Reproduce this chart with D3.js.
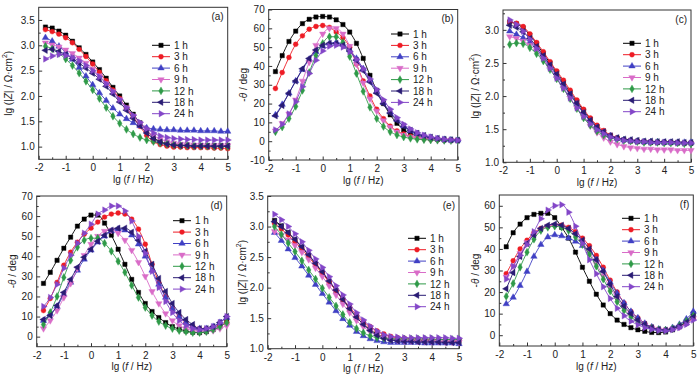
<!DOCTYPE html>
<html>
<head>
<meta charset="utf-8">
<script src="https://cdn.jsdelivr.net/npm/d3@7"></script>
<style>
body { margin: 0; background: #fff; }
svg { display: block; }
</style>
</head>
<body>
<svg id="chart" width="700" height="375"></svg>
<script>
// frequency grid, lg(f / Hz)
const LG_F = [-1.75, -1.5, -1.25, -1, -0.75, -0.5, -0.25, 0, 0.25, 0.5, 0.75, 1, 1.25, 1.5, 1.75, 2,
	2.25, 2.5, 2.75, 3, 3.25, 3.5, 3.75, 4, 4.25, 4.5, 4.75, 5];
const SERIES = ["1 h", "3 h", "6 h", "9 h", "12 h", "18 h", "24 h"];

// (a) lg|Z|
const panelA = [
	[3.36, 3.34, 3.28, 3.20, 3.08, 2.95, 2.82, 2.67, 2.52, 2.35, 2.17, 2.00, 1.82, 1.64, 1.47, 1.31, 1.18, 1.10, 1.06, 1.04, 1.03, 1.03, 1.02, 1.02, 1.02, 1.02, 1.02, 1.02],
	[3.31, 3.27, 3.22, 3.15, 3.05, 2.92, 2.78, 2.63, 2.47, 2.30, 2.12, 1.95, 1.76, 1.58, 1.40, 1.22, 1.10, 1.04, 1.01, 0.99, 0.99, 0.98, 0.98, 0.98, 0.98, 0.97, 0.97, 0.96],
	[3.15, 3.08, 2.98, 2.86, 2.72, 2.56, 2.39, 2.22, 2.06, 1.91, 1.76, 1.64, 1.55, 1.47, 1.41, 1.37, 1.35, 1.34, 1.33, 1.33, 1.32, 1.32, 1.32, 1.31, 1.31, 1.31, 1.30, 1.30],
	[3.05, 3.01, 2.97, 2.91, 2.84, 2.75, 2.65, 2.53, 2.40, 2.25, 2.09, 1.93, 1.77, 1.60, 1.45, 1.32, 1.22, 1.15, 1.10, 1.07, 1.05, 1.04, 1.03, 1.03, 1.02, 1.02, 1.02, 1.02],
	[2.98, 2.93, 2.84, 2.73, 2.60, 2.45, 2.29, 2.12, 1.95, 1.77, 1.60, 1.46, 1.34, 1.25, 1.18, 1.13, 1.10, 1.07, 1.05, 1.03, 1.02, 1.02, 1.01, 1.01, 1.01, 1.00, 1.00, 1.00],
	[2.90, 2.92, 2.88, 2.82, 2.74, 2.65, 2.55, 2.45, 2.33, 2.19, 2.04, 1.88, 1.72, 1.56, 1.41, 1.27, 1.16, 1.09, 1.05, 1.03, 1.02, 1.02, 1.01, 1.01, 1.01, 1.01, 1.01, 1.01],
	[2.73, 2.79, 2.82, 2.80, 2.76, 2.69, 2.60, 2.50, 2.38, 2.24, 2.09, 1.93, 1.77, 1.62, 1.48, 1.36, 1.27, 1.21, 1.18, 1.16, 1.15, 1.14, 1.14, 1.13, 1.13, 1.13, 1.13, 1.13]
];

// (b) -theta
const panelB = [
	[37, 45.5, 53, 58.5, 62.5, 64.8, 66, 66.3, 66, 64.5, 62, 58, 52, 44, 35, 27, 20, 14, 9.5, 6, 4, 2.8, 2, 1.4, 1, 0.7, 0.5, 0.5],
	[28, 36.5, 44.5, 51.5, 56, 59.5, 61, 61.5, 60.5, 58, 55, 50, 41, 32, 24, 17, 12, 8, 5.5, 3.8, 2.6, 1.8, 1.3, 1, 0.8, 0.6, 0.5, 0.4],
	[14, 19.5, 25.5, 32, 38, 43.5, 47.5, 50.5, 52, 52.5, 51.5, 48.5, 44, 38.5, 32.5, 26.5, 20.5, 15.5, 11.5, 8, 5.5, 4, 2.8, 2, 1.3, 0.9, 0.6, 0.5],
	[5.5, 9.5, 14.5, 22, 32, 42, 51, 57, 60, 60, 57, 50.5, 41, 31, 22.5, 16, 11, 7.5, 5, 3.3, 2.2, 1.5, 1, 0.8, 0.6, 0.5, 0.4, 0.3],
	[5, 7.5, 12, 18.5, 27, 36.5, 45.5, 52, 55.5, 55.5, 52.5, 45, 36, 26.5, 18, 12, 7.8, 5, 3.3, 2.2, 1.5, 1, 0.8, 0.6, 0.5, 0.4, 0.3, 0.3],
	[13.5, 19, 25.5, 32, 38.5, 44, 48.5, 51, 52, 52, 51, 48, 43, 37.5, 31.5, 25.5, 20, 15, 11, 8, 5.8, 4.2, 3, 2.1, 1.5, 1, 0.7, 0.5],
	[6, 9, 14.5, 21, 29, 36, 43, 48, 50.5, 51, 50, 47.5, 43.5, 38.5, 33, 27.5, 22, 17, 12.5, 9, 6.5, 4.5, 3.2, 2.2, 1.5, 1, 0.7, 0.5]
];

// (c) lg|Z|
const panelC = [
	[3.12, 3.09, 3.03, 2.92, 2.79, 2.64, 2.50, 2.36, 2.21, 2.06, 1.92, 1.78, 1.65, 1.54, 1.46, 1.40, 1.36, 1.34, 1.32, 1.31, 1.31, 1.30, 1.30, 1.30, 1.30, 1.29, 1.29, 1.29],
	[3.12, 3.10, 3.05, 2.94, 2.81, 2.67, 2.52, 2.38, 2.24, 2.09, 1.94, 1.80, 1.67, 1.56, 1.48, 1.41, 1.37, 1.34, 1.33, 1.32, 1.31, 1.31, 1.30, 1.30, 1.30, 1.30, 1.29, 1.29],
	[2.98, 2.93, 2.88, 2.81, 2.71, 2.59, 2.45, 2.31, 2.16, 2.02, 1.88, 1.74, 1.62, 1.52, 1.45, 1.40, 1.36, 1.34, 1.33, 1.32, 1.31, 1.31, 1.31, 1.30, 1.30, 1.30, 1.30, 1.30],
	[2.90, 2.87, 2.83, 2.77, 2.68, 2.56, 2.42, 2.27, 2.12, 1.97, 1.82, 1.68, 1.55, 1.45, 1.37, 1.31, 1.27, 1.24, 1.22, 1.21, 1.20, 1.20, 1.19, 1.19, 1.19, 1.18, 1.18, 1.18],
	[2.78, 2.80, 2.79, 2.73, 2.64, 2.53, 2.40, 2.26, 2.11, 1.96, 1.81, 1.67, 1.56, 1.47, 1.41, 1.37, 1.35, 1.33, 1.32, 1.31, 1.30, 1.30, 1.30, 1.29, 1.29, 1.29, 1.28, 1.28],
	[3.07, 3.04, 2.97, 2.87, 2.75, 2.61, 2.47, 2.33, 2.18, 2.03, 1.89, 1.75, 1.63, 1.53, 1.46, 1.40, 1.37, 1.35, 1.34, 1.33, 1.32, 1.32, 1.31, 1.31, 1.31, 1.31, 1.30, 1.30],
	[3.15, 3.08, 2.98, 2.86, 2.72, 2.57, 2.42, 2.27, 2.12, 1.97, 1.82, 1.69, 1.58, 1.49, 1.43, 1.38, 1.35, 1.33, 1.32, 1.31, 1.31, 1.30, 1.30, 1.30, 1.30, 1.29, 1.29, 1.29]
];

// (d) -theta
const panelD = [
	[26.5, 32, 38, 44, 49.5, 55, 58.5, 60.5, 60.5, 56.5, 50.5, 43.5, 36, 28.5, 22, 16.5, 12.5, 9.5, 7, 5, 3.8, 2.8, 2.2, 2, 2.5, 3.5, 5, 7.5],
	[13, 19, 27, 35.5, 42, 47, 51, 54, 57, 59.5, 61, 61.5, 61, 58.5, 53.5, 46, 36, 27, 20, 14, 10, 7, 5, 4, 4, 4.5, 5.5, 7],
	[8, 11.5, 15, 21, 27, 33, 38.5, 43, 47, 50, 52.5, 53.5, 53, 50.5, 46, 40, 33, 26, 19.5, 14, 10, 7, 5, 4, 4, 5, 7, 9.5],
	[4, 8, 13, 19.5, 26.5, 34, 40.5, 46, 50, 52.5, 53, 51.5, 48, 43, 37, 30, 22.5, 16.5, 11.5, 8, 5.5, 4, 3, 2.5, 2.5, 3, 4, 5.5],
	[6, 12, 20, 29.5, 38, 44.5, 48, 49, 49, 46.5, 42.5, 37.5, 32, 25.5, 19.5, 14.5, 10.5, 7.5, 5.5, 4, 3, 2.5, 2, 2, 2.5, 3.5, 5, 7],
	[8.5, 10.5, 15.5, 22, 28.5, 34.5, 39.5, 43.5, 47.5, 50.5, 53, 54, 54, 52, 48, 42.5, 36, 29, 22.5, 16.5, 12, 8.5, 6, 4, 4, 5, 7, 10],
	[15, 19.5, 26, 34, 40.5, 46.5, 51.5, 56, 61, 63, 65, 65, 62.5, 57.5, 50, 41.5, 32.5, 24.5, 17.5, 12, 8, 5.5, 4, 3.5, 4, 5, 7, 10]
];

// (e) lg|Z|
const panelE = [
	[3.10, 3.01, 2.90, 2.78, 2.66, 2.53, 2.39, 2.25, 2.10, 1.95, 1.80, 1.65, 1.51, 1.40, 1.31, 1.24, 1.19, 1.16, 1.15, 1.14, 1.14, 1.13, 1.13, 1.13, 1.12, 1.12, 1.12, 1.12],
	[3.05, 2.96, 2.86, 2.75, 2.63, 2.50, 2.37, 2.23, 2.09, 1.95, 1.81, 1.68, 1.55, 1.44, 1.36, 1.29, 1.24, 1.20, 1.18, 1.17, 1.16, 1.16, 1.15, 1.15, 1.15, 1.15, 1.14, 1.14],
	[2.90, 2.77, 2.63, 2.49, 2.35, 2.20, 2.05, 1.90, 1.76, 1.62, 1.49, 1.38, 1.28, 1.21, 1.16, 1.13, 1.11, 1.10, 1.10, 1.10, 1.10, 1.10, 1.09, 1.09, 1.09, 1.09, 1.09, 1.08],
	[2.92, 2.86, 2.78, 2.69, 2.58, 2.46, 2.32, 2.18, 2.03, 1.88, 1.73, 1.59, 1.46, 1.36, 1.28, 1.22, 1.18, 1.15, 1.14, 1.13, 1.13, 1.12, 1.12, 1.12, 1.12, 1.11, 1.11, 1.11],
	[3.00, 2.87, 2.73, 2.59, 2.44, 2.29, 2.14, 1.99, 1.84, 1.70, 1.56, 1.43, 1.33, 1.26, 1.21, 1.18, 1.17, 1.16, 1.16, 1.16, 1.16, 1.16, 1.16, 1.16, 1.15, 1.15, 1.15, 1.15],
	[3.08, 3.00, 2.90, 2.79, 2.67, 2.54, 2.40, 2.26, 2.11, 1.96, 1.81, 1.66, 1.52, 1.40, 1.30, 1.22, 1.17, 1.14, 1.13, 1.12, 1.12, 1.11, 1.11, 1.11, 1.11, 1.10, 1.10, 1.10],
	[3.20, 3.11, 3.00, 2.88, 2.75, 2.61, 2.47, 2.33, 2.18, 2.03, 1.88, 1.73, 1.59, 1.47, 1.37, 1.29, 1.23, 1.20, 1.19, 1.18, 1.18, 1.18, 1.18, 1.18, 1.18, 1.18, 1.17, 1.17]
];

// (f) -theta
const panelF = [
	[41, 47.5, 51.5, 54.5, 56, 56.5, 56.5, 54.5, 50, 45, 38.5, 31.5, 25, 19, 14, 10, 7, 5, 3.5, 2.5, 1.8, 1.3, 1.2, 1.5, 2.5, 4, 6.5, 10],
	[28.5, 34.5, 40, 44, 47.5, 49.5, 50.5, 51, 51, 50, 48, 45, 41.5, 37, 31.5, 25.5, 20, 15, 11, 8, 5.5, 3.8, 2.8, 2.5, 3, 4, 5.5, 8],
	[14.5, 17.5, 23, 29.5, 36.5, 42, 45.5, 46.5, 46, 45, 43.5, 41.5, 39, 35, 30, 24.5, 19.5, 15, 11, 8, 5.5, 3.8, 2.8, 2.5, 3.5, 5, 7.5, 11],
	[27, 32, 38, 43, 46.5, 49, 50.5, 51, 50.5, 49, 46.5, 43, 38.5, 33, 27.5, 22, 17, 12.5, 9, 6.5, 4.5, 3.2, 2.5, 2.2, 2.8, 3.8, 5.5, 8],
	[18, 24, 31.5, 38.5, 44.5, 48.5, 50, 50.5, 50, 48.5, 45.5, 42, 37.5, 32, 26, 20.5, 15.5, 11.5, 8.5, 6, 4.3, 3.2, 2.5, 2.3, 3, 4.5, 6.5, 9],
	[21.5, 29, 36.5, 42.5, 46.5, 49.5, 51, 51.5, 51, 49.5, 47, 44, 40, 35, 29.5, 23.5, 18, 13.5, 10, 7, 5, 3.5, 2.7, 2.3, 3, 4.3, 6, 8.5],
	[26, 32, 37, 42, 48, 54, 58, 60, 60.5, 57, 50.5, 42.5, 35, 28.5, 22.5, 17, 12.5, 9, 6.5, 4.8, 3.5, 2.7, 2.2, 2, 2.5, 3.5, 5, 7]
];

// tick labels
const X_TICKS = [-2, -1, 0, 1, 2, 3, 4, 5];
const Y_TICKS_A = [1.0, 1.5, 2.0, 2.5, 3.0, 3.5];
const Y_TICKS_B = [-10, 0, 10, 20, 30, 40, 50, 60, 70];
const Y_TICKS_C = [1.0, 1.5, 2.0, 2.5, 3.0];
const Y_TICKS_D = [0, 10, 20, 30, 40, 50, 60, 70];
const Y_TICKS_E = [1.0, 1.5, 2.0, 2.5, 3.0, 3.5];
const Y_TICKS_F = [0, 10, 20, 30, 40, 50, 60];

const FONT = "'Liberation Sans', Arial, sans-serif";
const COLORS = ["#000000", "#ee1c25", "#4040c4", "#d96cc8", "#2f9a48", "#2a1c74", "#8346c8"];
const SHAPES = [
	{ type: d3.symbolSquare, rot: 0, size: 19 },
	{ type: d3.symbolCircle, rot: 0, size: 19 },
	{ type: d3.symbolTriangle, rot: 0, size: 18 },
	{ type: d3.symbolTriangle, rot: 180, size: 18 },
	{ type: d3.symbolDiamond, rot: 0, size: 18 },
	{ type: d3.symbolTriangle, rot: -90, size: 18 },
	{ type: d3.symbolTriangle, rot: 90, size: 18 }
];

const panels = [
	{ tag: "(a)", values: panelA, kind: "z", yTicks: Y_TICKS_A, yDomain: [0.75, 3.75], left: 38.7, right: 227.7, top: 7.3, bottom: 159.3, legX: 152, legY: 45.3, titleX: 9 },
	{ tag: "(b)", values: panelB, kind: "t", yTicks: Y_TICKS_B, yDomain: [-10, 70], left: 268.7, right: 457.7, top: 9.5, bottom: 160, legX: 391, legY: 34, titleX: 244 },
	{ tag: "(c)", values: panelC, kind: "z", yTicks: Y_TICKS_C, yDomain: [1.0, 3.3], left: 503, right: 691, top: 10, bottom: 162.3, legX: 623, legY: 43.3, titleX: 476 },
	{ tag: "(d)", values: panelD, kind: "t", yTicks: Y_TICKS_D, yDomain: [-5, 70], left: 36.7, right: 226.7, top: 196, bottom: 346.7, legX: 173, legY: 220.7, titleX: 13 },
	{ tag: "(e)", values: panelE, kind: "z", yTicks: Y_TICKS_E, yDomain: [1.0, 3.5], left: 267.7, right: 459, top: 196, bottom: 348.7, legX: 408, legY: 238.3, titleX: 243 },
	{ tag: "(f)", values: panelF, kind: "t", yTicks: Y_TICKS_F, yDomain: [-5, 65], left: 499.3, right: 693.3, top: 195, bottom: 346, legX: 622, legY: 218.3, titleX: 476 }
];

const svg = d3.select("#chart");

function marker(sel, i, cx, cy) {
	const s = SHAPES[i];
	sel.append("path")
		.attr("d", d3.symbol().type(s.type).size(s.size)())
		.attr("transform", `translate(${cx},${cy}) rotate(${s.rot})`)
		.attr("fill", COLORS[i])
		.attr("stroke", COLORS[i])
		.attr("stroke-width", 0.4);
}

function styleAxis(sel) {
	sel.attr("font-family", FONT).attr("font-size", 10);
	sel.select(".domain").remove();
	sel.selectAll("line").attr("stroke", "#333");
	sel.selectAll("text").attr("fill", "#222");
}

function drawPanel(p) {
	const x = d3.scaleLinear([-2, 5], [p.left, p.right]);
	const y = d3.scaleLinear(p.yDomain, [p.bottom, p.top]);
	const g = svg.append("g");

	const xMinor = X_TICKS.slice(0, -1).map(d => d + 0.5);
	const step = p.yTicks[1] - p.yTicks[0];
	const yMinor = p.yTicks.map(d => d + step / 2)
		.filter(d => d > p.yDomain[0] && d < p.yDomain[1]);
	if (p.yTicks[0] - step / 2 > p.yDomain[0]) yMinor.push(p.yTicks[0] - step / 2);

	g.append("g").attr("transform", `translate(0,${p.bottom})`)
		.call(d3.axisBottom(x).tickValues(xMinor).tickSize(-2).tickFormat(""))
		.call(styleAxis);
	g.append("g").attr("transform", `translate(0,${p.bottom})`)
		.call(d3.axisBottom(x).tickValues(X_TICKS).tickSize(-3.5).tickPadding(5).tickFormat(d => String(d)))
		.call(styleAxis);
	g.append("g").attr("transform", `translate(${p.left},0)`)
		.call(d3.axisLeft(y).tickValues(yMinor).tickSize(-2).tickFormat(""))
		.call(styleAxis);
	g.append("g").attr("transform", `translate(${p.left},0)`)
		.call(d3.axisLeft(y).tickValues(p.yTicks).tickSize(-3.5).tickPadding(4)
			.tickFormat(d => p.kind === "z" ? d.toFixed(1) : String(d)))
		.call(styleAxis);

	g.append("rect")
		.attr("x", p.left).attr("y", p.top)
		.attr("width", p.right - p.left).attr("height", p.bottom - p.top)
		.attr("fill", "none").attr("stroke", "#333").attr("stroke-width", 1);

	const line = d3.line()
		.x((d, i) => x(LG_F[i]))
		.y(d => y(d))
		.curve(d3.curveMonotoneX);

	p.values.forEach((vals, si) => {
		const sg = g.append("g");
		sg.append("path")
			.attr("d", line(vals))
			.attr("fill", "none")
			.attr("stroke", COLORS[si])
			.attr("stroke-width", 0.9);
		vals.forEach((v, i) => marker(sg, si, x(LG_F[i]), y(v)));
	});

	// legend
	SERIES.forEach((name, i) => {
		const ly = p.legY + i * 11.4;
		g.append("line")
			.attr("x1", p.legX).attr("x2", p.legX + 18)
			.attr("y1", ly).attr("y2", ly)
			.attr("stroke", COLORS[i]).attr("stroke-width", 1);
		marker(g, i, p.legX + 9, ly);
		g.append("text")
			.attr("x", p.legX + 22).attr("y", ly + 3.6)
			.attr("font-family", FONT).attr("font-size", 10).attr("fill", "#222")
			.text(name);
	});

	g.append("text")
		.attr("x", p.right - 4).attr("y", p.top + 12.5)
		.attr("text-anchor", "end")
		.attr("font-family", FONT).attr("font-size", 10).attr("fill", "#222")
		.text(p.tag);

	// x title
	const xt = g.append("text")
		.attr("x", (p.left + p.right) / 2).attr("y", p.bottom + 23.5)
		.attr("text-anchor", "middle")
		.attr("font-family", FONT).attr("font-size", 10).attr("fill", "#222");
	xt.append("tspan").text("lg (");
	xt.append("tspan").attr("font-style", "italic").text("f");
	xt.append("tspan").text(" / Hz)");

	// y title
	const yt = g.append("text")
		.attr("transform", `translate(${p.titleX},${(p.top + p.bottom) / 2}) rotate(-90)`)
		.attr("text-anchor", "middle")
		.attr("dominant-baseline", "middle")
		.attr("font-family", FONT).attr("font-size", 10).attr("fill", "#222");
	if (p.kind === "z") {
		yt.append("tspan").text("lg (|");
		yt.append("tspan").attr("font-style", "italic").text("Z");
		yt.append("tspan").text("| / \u03a9\u00b7cm");
		yt.append("tspan").attr("font-size", 7).attr("dy", -4).text("2");
		yt.append("tspan").attr("dy", 4).text(")");
	} else {
		yt.append("tspan").text("-");
		yt.append("tspan").attr("font-style", "italic").text("\u03b8");
		yt.append("tspan").text(" / deg");
	}
}

panels.forEach(drawPanel);
</script>
</body>
</html>
